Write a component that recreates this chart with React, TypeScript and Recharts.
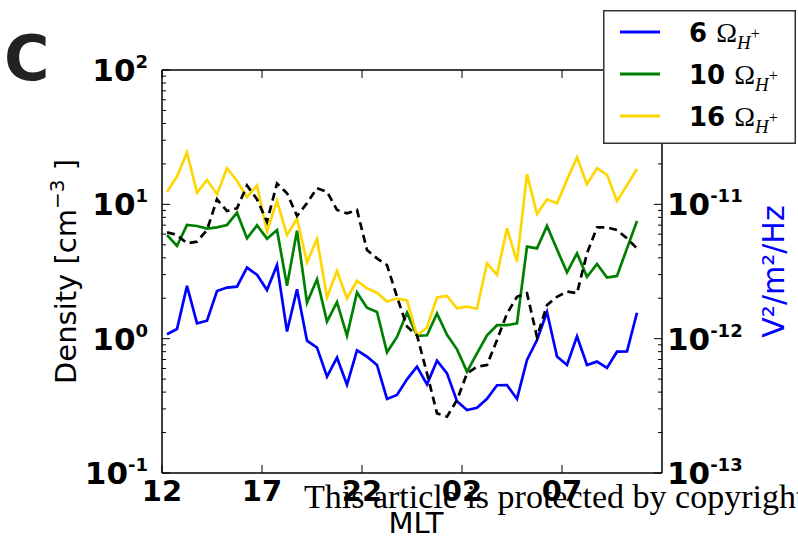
import React from 'react';
import { LineChart, Line, XAxis, YAxis, Legend } from 'recharts';

// position along the MLT axis (hours after 12 MLT)
const mltPos = [
  0.25, 0.75, 1.25, 1.75, 2.25, 2.75, 3.25, 3.75, 4.25, 4.75,
  5.25, 5.75, 6.25, 6.75, 7.25, 7.75, 8.25, 8.75, 9.25, 9.75,
  10.25, 10.75, 11.25, 11.75, 12.25, 12.75, 13.25, 13.75, 14.25, 14.75,
  15.25, 15.75, 16.25, 16.75, 17.25, 17.75, 18.25, 18.75, 19.25, 19.75,
  20.25, 20.75, 21.25, 21.75, 22.25, 22.75, 23.25, 23.75,
];

// density [cm^-3] for 6, 10, 16 Omega_H+
const dens6 = [
  1.08, 1.18, 2.47, 1.30, 1.36, 2.26, 2.40, 2.44, 3.38, 2.99,
  2.30, 3.53, 1.13, 2.33, 0.966, 0.857, 0.521, 0.722, 0.455, 0.819,
  0.735, 0.637, 0.356, 0.381, 0.498, 0.619, 0.457, 0.686, 0.552, 0.342,
  0.294, 0.306, 0.357, 0.450, 0.451, 0.356, 0.694, 0.977, 1.58, 0.735,
  0.637, 1.04, 0.637, 0.675, 0.605, 0.800, 0.805, 1.56,
];
const dens10 = [
  5.91, 4.90, 7.02, 6.90, 6.59, 6.74, 7.02, 8.67, 5.58, 6.98,
  5.55, 6.44, 2.48, 6.37, 1.85, 2.77, 1.34, 1.87, 1.05, 2.21,
  1.70, 1.58, 0.791, 1.03, 1.56, 1.05, 1.06, 1.54, 1.07, 0.833,
  0.568, 0.778, 1.06, 1.26, 1.26, 1.30, 4.84, 4.70, 6.90, 4.62,
  3.12, 4.32, 2.89, 3.60, 2.85, 2.93, 4.70, 7.51,
];
const dens16 = [
  12.4, 16.1, 24.3, 12.2, 15.2, 11.9, 18.6, 15.0, 11.3, 13.8,
  6.26, 10.6, 5.91, 7.82, 3.70, 5.52, 2.03, 3.19, 1.99, 2.70,
  2.37, 2.20, 1.89, 1.99, 1.93, 1.06, 1.21, 2.03, 2.08, 1.68,
  1.73, 1.67, 3.64, 2.99, 6.63, 3.74, 16.8, 8.47, 10.9, 10.2,
  15.2, 22.4, 14.1, 18.6, 16.6, 10.6, 13.9, 18.3,
];
// wave power spectral density [V^2/m^2/Hz] (right axis)
const psd = [
  6.19e-12, 5.91e-12, 5.13e-12, 5.27e-12, 6.44e-12, 10.9e-12, 8.92e-12, 9.34e-12, 13.8e-12, 10.9e-12,
  7.43e-12, 14.3e-12, 12.1e-12, 8.19e-12, 10.2e-12, 13.2e-12, 12.4e-12, 9.08e-12, 8.57e-12, 9.08e-12,
  4.57e-12, 3.96e-12, 3.53e-12, 2.05e-12, 1.23e-12, 1.06e-12, 0.552e-12, 0.278e-12, 0.263e-12, 0.349e-12,
  0.552e-12, 0.619e-12, 0.637e-12, 0.977e-12, 1.54e-12, 2.05e-12, 2.18e-12, 1.03e-12, 1.78e-12, 2.05e-12,
  2.24e-12, 2.18e-12, 4.32e-12, 6.74e-12, 6.74e-12, 6.44e-12, 5.58e-12, 4.70e-12,
];

const seriesNames = ['6', '10', '16'];
const xTicks = [0, 5, 10, 15, 20];
const xTickLabels = ['12', '17', '22', '02', '07'];
const densTicks = [
  0.1, 0.2, 0.3, 0.4, 0.5, 0.6, 0.7, 0.8, 0.9,
  1, 2, 3, 4, 5, 6, 7, 8, 9,
  10, 20, 30, 40, 50, 60, 70, 80, 90, 100,
];
const psdTicks = [
  1e-13, 2e-13, 3e-13, 4e-13, 5e-13, 6e-13, 7e-13, 8e-13, 9e-13,
  1e-12, 2e-12, 3e-12, 4e-12, 5e-12, 6e-12, 7e-12, 8e-12, 9e-12,
  1e-11, 2e-11, 3e-11, 4e-11, 5e-11, 6e-11, 7e-11, 8e-11, 9e-11, 1e-10,
];
const psdLabeled = [1e-13, 1e-12, 1e-11];

const data = mltPos.map((x, i) => ({
  x,
  d6: dens6[i],
  d10: dens10[i],
  d16: dens16[i],
  psd: psd[i],
}));

const SANS = "'DejaVu Sans', sans-serif";
const SERIF = "'Liberation Serif', 'DejaVu Serif', serif";

const isDecade = (v: number) => {
  const l = Math.log10(v);
  return Math.abs(l - Math.round(l)) < 1e-6;
};

const LeftTick = (props: any) => {
  const { x, y, payload } = props;
  const v = payload.value;
  const major = isDecade(v);
  return (
    <g>
      <line x1={x} y1={y} x2={x + (major ? 8 : 4)} y2={y} stroke="#000" strokeWidth={1} />
      {major && (
        <text x={x - 14} y={y + 11} textAnchor="end" fontFamily={SANS} fontWeight="bold" fontSize={31} fill="#000">
          10
          <tspan dy={-13} fontSize={18}>{String(Math.round(Math.log10(v)))}</tspan>
        </text>
      )}
    </g>
  );
};

const RightTick = (props: any) => {
  const { x, y, payload } = props;
  const v = payload.value;
  const major = isDecade(v);
  const labeled = psdLabeled.some((t) => Math.abs(Math.log10(t) - Math.log10(v)) < 1e-6);
  return (
    <g>
      <line x1={x} y1={y} x2={x - (major ? 8 : 4)} y2={y} stroke="#000" strokeWidth={1} />
      {labeled && (
        <text x={x + 5} y={y + 11} textAnchor="start" fontFamily={SANS} fontWeight="bold" fontSize={31} fill="#000">
          10
          <tspan dy={-13} fontSize={18}>{String(Math.round(Math.log10(v)))}</tspan>
        </text>
      )}
    </g>
  );
};

const BottomTick = (props: any) => {
  const { x, y, payload } = props;
  const idx = xTicks.indexOf(payload.value);
  return (
    <g>
      <line x1={x} y1={y} x2={x} y2={y - 8} stroke="#000" strokeWidth={1} />
      <text x={x} y={y + 28} textAnchor="middle" fontFamily={SANS} fontWeight="bold" fontSize={29} fill="#000">
        {xTickLabels[idx]}
      </text>
    </g>
  );
};

const TopTick = (props: any) => {
  const { x, y } = props;
  return <line x1={x} y1={y} x2={x} y2={y + 8} stroke="#000" strokeWidth={1} />;
};

const LegendBox = (props: any) => {
  const items = (props.payload || [])
    .filter((p: any) => seriesNames.indexOf(p.value) >= 0)
    .sort((a: any, b: any) => seriesNames.indexOf(a.value) - seriesNames.indexOf(b.value));
  return (
    <svg width={193} height={134} style={{ display: 'block' }}>
      <rect x={0.75} y={0.75} width={191.5} height={132.5} fill="#fff" stroke="#333" strokeWidth={1.5} />
      {items.map((p: any, i: number) => {
        const cy = 22 + 42 * i;
        return (
          <g key={i}>
            <line x1={17} x2={57} y1={cy} y2={cy} stroke={p.color} strokeWidth={2.8} />
            <text x={86} y={cy + 10} fill="#000">
              <tspan fontFamily={SANS} fontWeight="bold" fontSize={26}>{p.value + ' '}</tspan>
              <tspan fontFamily={SERIF} fontSize={28}>Ω</tspan>
              <tspan fontFamily={SERIF} fontStyle="italic" fontSize={19} dy={7}>H</tspan>
              <tspan fontFamily={SERIF} fontSize={16} dy={-10}>+</tspan>
            </text>
          </g>
        );
      })}
    </svg>
  );
};

export default function App() {
  return (
    <div style={{ position: 'absolute', left: 0, top: 0, width: 798, height: 538, background: '#fff' }}>
      <LineChart width={798} height={538} data={data} margin={{ top: 69, right: 0, bottom: 0, left: 0 }}>
        <XAxis
          xAxisId="top"
          orientation="top"
          type="number"
          dataKey="x"
          domain={[0, 25]}
          allowDataOverflow
          ticks={xTicks}
          interval={0}
          height={1}
          tickSize={0}
          tickMargin={0}
          tickLine={false}
          tick={(p: any) => <TopTick {...p} />}
          axisLine={{ stroke: '#000', strokeWidth: 1.5 }}
        />
        <XAxis
          type="number"
          dataKey="x"
          domain={[0, 25]}
          allowDataOverflow
          ticks={xTicks}
          interval={0}
          height={65}
          tickSize={0}
          tickMargin={0}
          tickLine={false}
          tick={(p: any) => <BottomTick {...p} />}
          axisLine={{ stroke: '#000', strokeWidth: 1.5 }}
          label={{
            content: (lp: any) => {
              const vb = lp.viewBox || {};
              return (
                <text x={vb.x + vb.width / 2 + 4} y={vb.y + 60} textAnchor="middle" fontFamily={SANS} fontSize={29} fill="#000">
                  MLT
                </text>
              );
            },
          }}
        />
        <YAxis
          yAxisId="left"
          type="number"
          scale="log"
          domain={[0.1, 100]}
          allowDataOverflow
          ticks={densTicks}
          interval={0}
          width={162}
          tickSize={0}
          tickMargin={0}
          tickLine={false}
          tick={(p: any) => <LeftTick {...p} />}
          axisLine={{ stroke: '#000', strokeWidth: 1.5 }}
          label={{
            content: (lp: any) => {
              const vb = lp.viewBox || {};
              const cx = vb.x + 76;
              const cy = vb.y + vb.height / 2;
              return (
                <text transform={`translate(${cx}, ${cy}) rotate(-90)`} textAnchor="middle" fontFamily={SANS} fontSize={29} fill="#000">
                  Density [cm
                  <tspan dy={-12} fontSize={20}>−3</tspan>
                  <tspan dy={12}> ]</tspan>
                </text>
              );
            },
          }}
        />
        <YAxis
          yAxisId="right"
          orientation="right"
          type="number"
          scale="log"
          domain={[1e-13, 1e-10]}
          allowDataOverflow
          ticks={psdTicks}
          interval={0}
          width={136}
          tickSize={0}
          tickMargin={0}
          tickLine={false}
          tick={(p: any) => <RightTick {...p} />}
          axisLine={{ stroke: '#000', strokeWidth: 1.5 }}
          label={{
            content: (lp: any) => {
              const vb = lp.viewBox || {};
              const cx = vb.x + 122;
              const cy = vb.y + vb.height / 2;
              return (
                <text transform={`translate(${cx}, ${cy}) rotate(-90)`} textAnchor="middle" fontFamily={SANS} fontSize={30} fill="#0000ff">
                  V²/m²/Hz
                </text>
              );
            },
          }}
        />
        <Line yAxisId="left" dataKey="d6" name="6" stroke="#0000ff" strokeWidth={2.7} dot={false} isAnimationActive={false} />
        <Line yAxisId="left" dataKey="d10" name="10" stroke="#008000" strokeWidth={2.7} dot={false} isAnimationActive={false} />
        <Line yAxisId="left" dataKey="d16" name="16" stroke="#ffd700" strokeWidth={2.7} dot={false} isAnimationActive={false} />
        <Line
          yAxisId="right"
          dataKey="psd"
          name="psd"
          stroke="#000"
          strokeWidth={2.7}
          strokeDasharray="8 5"
          dot={false}
          legendType="none"
          isAnimationActive={false}
        />
        <Legend
          layout="horizontal"
          verticalAlign="middle"
          align="center"
          content={(p: any) => <LegendBox {...p} />}
          wrapperStyle={{ position: 'absolute', left: 603, top: 10, width: 193, height: 134 }}
        />
      </LineChart>
      <svg width={798} height={538} style={{ position: 'absolute', left: 0, top: 0, pointerEvents: 'none' }}>
        <text x={4} y={80} fontFamily={SANS} fontWeight="bold" fontSize={62} fill="#222">C</text>
        <text x={304} y={508} fontFamily={SERIF} fontSize={34} fill="#000">This article is protected by copyright</text>
      </svg>
    </div>
  );
}
